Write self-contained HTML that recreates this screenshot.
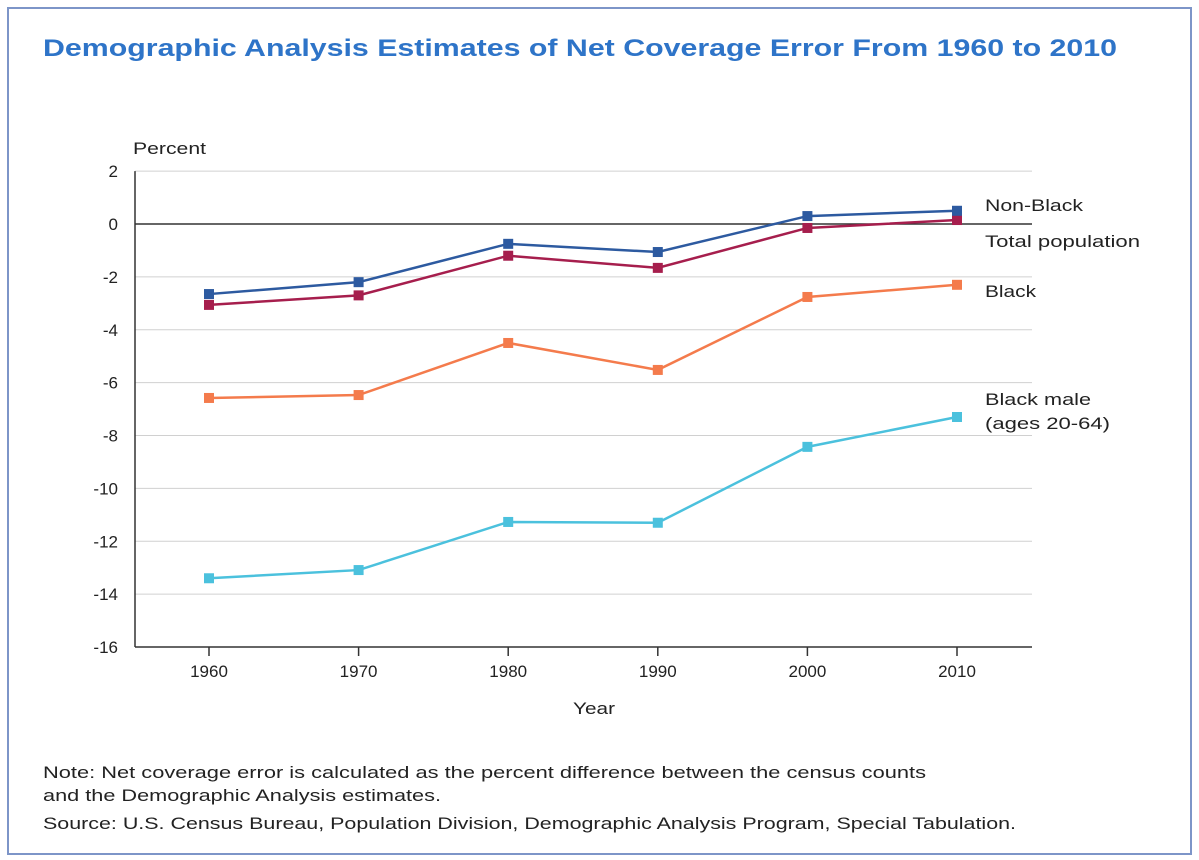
<!DOCTYPE html>
<html><head><meta charset="utf-8"><style>
body{margin:0;background:#fff;}
svg{display:block;font-family:"Liberation Sans",sans-serif;}
</style></head><body>
<svg id="c" width="1199" height="860">
<rect x="8" y="8" width="1183" height="846" fill="#fff" stroke="#7d95c8" stroke-width="2"/>
<text x="43" y="56" font-size="24" font-weight="bold" fill="#2e74c8" textLength="1074" lengthAdjust="spacingAndGlyphs">Demographic Analysis Estimates of Net Coverage Error From 1960 to 2010</text>
<text x="133" y="154" font-size="17" fill="#222" textLength="73" lengthAdjust="spacingAndGlyphs">Percent</text>
<text x="573" y="714" font-size="17" fill="#222" textLength="42" lengthAdjust="spacingAndGlyphs">Year</text>
<text x="43" y="778" font-size="17" fill="#222" textLength="883" lengthAdjust="spacingAndGlyphs">Note: Net coverage error is calculated as the percent difference between the census counts</text>
<text x="43" y="801" font-size="17" fill="#222" textLength="398" lengthAdjust="spacingAndGlyphs">and the Demographic Analysis estimates.</text>
<text x="43" y="829" font-size="17" fill="#222" textLength="973" lengthAdjust="spacingAndGlyphs">Source: U.S. Census Bureau, Population Division, Demographic Analysis Program, Special Tabulation.</text>
<g id="plot"></g>
</svg>
<script>
const years=[1960,1970,1980,1990,2000,2010];
const yTicks=[2,0,-2,-4,-6,-8,-10,-12,-14,-16];
const nonBlack=[-2.65,-2.2,-0.75,-1.06,0.3,0.5];
const totalPop=[-3.06,-2.7,-1.2,-1.66,-0.15,0.15];
const black=[-6.58,-6.47,-4.5,-5.52,-2.76,-2.3];
const blackMale=[-13.4,-13.09,-11.27,-11.3,-8.43,-7.3];
const NS="http://www.w3.org/2000/svg";
const g=document.getElementById('plot');
const X=yr=>209+(yr-1960)*(957-209)/50;
const Y=v=>224-v*(647-224)/16;
function mk(t,a,p){const e=document.createElementNS(NS,t);for(const k in a)e.setAttribute(k,a[k]);(p||g).appendChild(e);return e;}
yTicks.forEach(v=>{
  if(v!==0&&v!==-16){const l=mk('line',{x1:135,x2:1032,y1:Y(v),y2:Y(v),stroke:'#d0d0d0','stroke-width':1});
  
  }
  const t=mk('text',{x:118,y:Y(v)+6,'font-size':17,fill:'#222','text-anchor':'end'});t.textContent=v;
  
  
});
const z=mk('line',{x1:135,x2:1032,y1:Y(0),y2:Y(0),stroke:'#333','stroke-width':1.5});


const ya=mk('line',{x1:135,x2:135,y1:Y(2),y2:Y(-16),stroke:'#333','stroke-width':1.5});


const xa=mk('line',{x1:135,x2:1032,y1:Y(-16),y2:Y(-16),stroke:'#333','stroke-width':1.5});


years.forEach(yr=>{
  const tk=mk('line',{x1:X(yr),x2:X(yr),y1:Y(-16),y2:Y(-16)+9,stroke:'#333','stroke-width':1.5});
  
  
  const t=mk('text',{x:X(yr),y:677,'font-size':17,fill:'#222','text-anchor':'middle'});t.textContent=yr;
  
  
});
const series=[[blackMale,'#4bc1dd','black-male'],[black,'#f47b4c','black'],[totalPop,'#a61e4d','total-population'],[nonBlack,'#2d5aa0','non-black']];
series.forEach(([d,c,n])=>{
  const p=mk('polyline',{points:d.map((v,i)=>X(years[i])+','+Y(v)).join(' '),fill:'none',stroke:c,'stroke-width':2.5});
  
  
  d.forEach((v,i)=>{const r=mk('rect',{x:X(years[i])-5,y:Y(v)-5,width:10,height:10,fill:c});
  
  });
});
const labels=[['Non-Black',211,98],['Total population',247,155],['Black',297,51],['Black male',405,106],['(ages 20-64)',429,125]];
labels.forEach(([s,y,w])=>{const t=mk('text',{x:985,y:y,'font-size':17,fill:'#222',textLength:w,lengthAdjust:'spacingAndGlyphs'});t.textContent=s;
  
  });
</script>
</body></html>
